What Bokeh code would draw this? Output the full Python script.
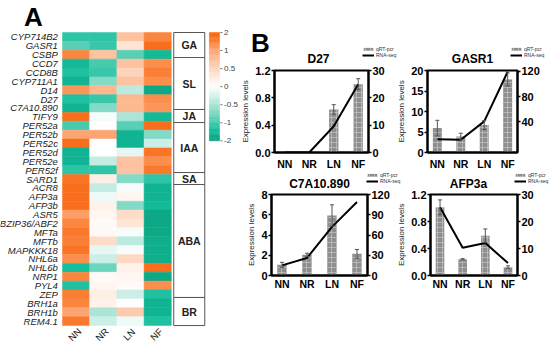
import numpy as np
from bokeh.plotting import figure
from bokeh.models import (ColumnDataSource, Range1d, LinearAxis, FixedTicker, Whisker, TeeHead,
                          Legend, LegendItem, LinearColorMapper, NumeralTickFormatter)
from bokeh.layouts import row, column
from bokeh.core.properties import value
from bokeh.embed import file_html
from bokeh.resources import INLINE

FONT = "Liberation Sans"

# ---------------- data: heatmap ----------------
genes = ["CYP714B2", "GASR1", "CSBP", "CCD7", "CCD8B", "CYP711A1", "D14", "D27", "C7A10.890",
         "TIFY9", "PER52a", "PER52b", "PER52c", "PER52d", "PER52e", "PER52f", "SARD1", "ACR8",
         "AFP3a", "AFP3b", "ASR5", "BZIP36/ABF2", "MFTa", "MFTb", "MAPKKK18", "NHL6a", "NHL6b",
         "NRP1", "PYL4", "ZEP", "BRH1a", "BRH1b", "REM4.1"]
conditions = ["NN", "NR", "LN", "NF"]
z_NN = [-1.2, -0.9, 1.4, -1.5, -1.3, -1.6, 1.2, -1.3, -1.6, 1.8, -1.0, 1.0, 1.8, -1.6, -1.6, -1.2,
        1.7, 1.8, 1.8, 1.8, 1.1, 1.4, 1.6, 1.5, 1.7, 1.3, -1.4, 1.4, -1.3, 1.5, 1.4, 1.0, 1.6]
z_NR = [-1.2, -1.1, 0.7, -1.0, -1.1, -0.7, 0.8, -1.1, -0.7, -0.05, 0.0, 1.0, 0.0, 0.0, -0.35, -1.2,
        0.2, -0.35, -0.1, 0.15, 0.1, 0.05, 0.05, 0.4, -0.15, -0.3, -0.8, 0.05, 0.1, 0.2, 0.15, -0.5, -0.3]
z_LN = [0.7, 0.3, -0.9, 0.7, 0.5, 0.7, -0.4, 0.8, 0.8, -0.5, -0.9, -1.6, -1.6, -0.15, 0.7, 0.7,
        -0.7, -0.05, 0.1, -0.7, 0.4, 0.3, -0.05, -0.4, -0.05, 0.45, 0.15, 0.1, 0.05, -0.3, 0.0, 0.6, -0.1]
z_NF = [1.4, 1.8, -1.5, 1.3, 1.5, 1.3, -1.8, 1.3, 1.2, -1.5, 1.8, -0.7, -0.3, 1.7, 1.3, 1.6,
        -1.2, -1.6, -1.6, -1.5, -1.8, -1.8, -1.8, -1.7, -1.7, -1.7, 1.8, -1.8, 1.3, -1.3, -1.6, -1.6, -1.3]
groups = ["GA", "SL", "JA", "IAA", "SA", "ABA", "BR"]
group_edges = [0, 2.82, 8.67, 10.14, 15.77, 17.12, 29.84, 33.0]   # box boundaries (in rows)
cbar_labels = ["2", "1", "0.5", "0", "-0.5", "-1", "-2"]
cbar_values = [2, 1, 0.5, 0, -0.5, -1, -2]

# ---------------- data: qRT-PCR / RNA-seq ----------------
x_labels = ["NN", "NR", "LN", "NF"]
d27_qrt = [0.0, 0.0, 0.63, 1.0]
d27_err = [0.0, 0.0, 0.07, 0.08]
d27_rna = [0.0, 0.0, 9.6, 25.0]
gasr1_qrt = [5.95, 3.9, 6.7, 17.8]
gasr1_err = [1.9, 0.8, 1.1, 1.6]
gasr1_rna = [13, 12, 41, 119]
c7a_qrt = [1.05, 2.04, 5.93, 2.14]
c7a_err = [0.25, 0.16, 1.05, 0.43]
c7a_rna = [15, 26, 72, 109]
afp3a_qrt = [1.01, 0.24, 0.59, 0.123]
afp3a_err = [0.11, 0.01, 0.10, 0.02]
afp3a_rna = [25.3, 10.3, 12.0, 4.6]
legend_labels = ["qRT-pcr", "RNA-seq"]

# ---------------- colour map ----------------
stop_v = [-2, -1.4, -1, -0.5, 0, 0.5, 1, 1.5, 2]
stop_c = ["#0A9F7C", "#14BF9D", "#47CAAE", "#AAE5D7", "#FFFFFF", "#FDD5BC", "#FCA673", "#FA7F34", "#F8640F"]
def hex2rgb(h):
    return [int(h[i:i + 2], 16) for i in (1, 3, 5)]
rgb = np.array([hex2rgb(c) for c in stop_c], dtype=float)
vals = np.linspace(-2, 2, 256)
palette = ["#%02x%02x%02x" % tuple(int(round(np.interp(v, stop_v, rgb[:, k]))) for k in range(3)) for v in vals]
mapper = LinearColorMapper(palette=palette, low=-2, high=2)

BAR_STYLE = dict(fill_color="#8E8E8E", line_color=None, hatch_pattern="+", hatch_color="#C9C9C9",
                 hatch_scale=5, hatch_weight=0.8, hatch_alpha=0.8)


def blank(width, height, xr, yr):
    f = figure(width=width, height=height, x_range=xr, y_range=yr, output_backend="svg",
               toolbar_location=None, min_border=0, x_axis_location=None, y_axis_location=None)
    f.grid.visible = False
    f.outline_line_color = None
    return f


# ---------------- heatmap figure (panel A) ----------------
HM_W, HM_H = 238, 344
COL_W, ROW_H = 27.2, 8.88
X0, Y0 = 62, 32
hm = blank(HM_W, HM_H, Range1d(-X0 / COL_W, (HM_W - X0) / COL_W),
           Range1d((HM_H - Y0) / ROW_H, -Y0 / ROW_H))

cx, cy, cz = [], [], []
for j, col in enumerate([z_NN, z_NR, z_LN, z_NF]):
    for i, v in enumerate(col):
        cx.append(j + 0.5); cy.append(i + 0.5); cz.append(v)
hsrc = ColumnDataSource(dict(x=cx, y=cy, z=cz))
hm.rect(x="x", y="y", width=1, height=1, source=hsrc,
        fill_color={"field": "z", "transform": mapper},
        line_color={"field": "z", "transform": mapper}, line_width=0.5)

hm.text(x=-0.17, y=[i + 0.5 for i in range(len(genes))], text=genes,
        text_align="right", text_baseline="middle", text_font=value(FONT),
        text_font_style="italic", text_font_size="9.5px", text_color="#1a1a1a")
hm.text(x=[j + 0.45 for j in range(4)], y=[34.0] * 4, text=conditions, angle=np.pi / 4,
        text_align="center", text_baseline="middle", text_font=value(FONT),
        text_font_size="9.5px", text_color="#1a1a1a")

# group boxes
gb = ColumnDataSource(dict(top=group_edges[:-1], bottom=group_edges[1:], name=groups,
                           mid=[(a + b) / 2 for a, b in zip(group_edges[:-1], group_edges[1:])]))
hm.quad(left=4.09, right=5.23, top="top", bottom="bottom", source=gb,
        fill_color="white", line_color="#555555", line_width=1)
hm.text(x=4.66, y="mid", text="name", source=gb, text_align="center", text_baseline="middle",
        text_font=value(FONT), text_font_style="bold", text_font_size="10.5px", text_color="#222222")

# colour bar
CB_TOP, CB_BOT = 0.0, 12.2
nseg = 90
t = np.linspace(0, 6, nseg + 1)
seg_v = np.interp((t[:-1] + t[1:]) / 2, np.arange(7), cbar_values)
seg_top = CB_TOP + t[:-1] / 6 * (CB_BOT - CB_TOP)
seg_bot = CB_TOP + t[1:] / 6 * (CB_BOT - CB_TOP)
cb = ColumnDataSource(dict(top=seg_top, bottom=seg_bot, v=seg_v))
hm.quad(left=5.4, right=5.77, top="top", bottom="bottom", source=cb,
        fill_color={"field": "v", "transform": mapper},
        line_color={"field": "v", "transform": mapper}, line_width=0.5)
tick_rows = [CB_TOP + k / 6 * (CB_BOT - CB_TOP) for k in range(7)]
hm.segment(x0=5.8, x1=5.88, y0=tick_rows, y1=tick_rows, line_color="#555555", line_width=0.8)
hm.text(x=5.94, y=tick_rows, text=cbar_labels, text_align="left", text_baseline="middle",
        text_font=value(FONT), text_font_size="8px", text_color="#444444")

hm.text(x=[-1.07], y=[-1.8], text=["A"], text_align="center", text_baseline="middle",
        text_font=value(FONT), text_font_style="bold", text_font_size="26px", text_color="black")


# ---------------- bar/line charts (panel B) ----------------
def make_chart(qrt, err, rna, left_end, left_ticks, left_fmt, right_range, right_ticks,
               width, height, mbl, mbr, mbt, mbb, x_standoff):
    p = figure(width=width, height=height, x_range=Range1d(-0.42, 3.42), y_range=Range1d(0, left_end),
               output_backend="svg", toolbar_location=None,
               min_border_left=mbl, min_border_right=mbr, min_border_top=mbt, min_border_bottom=mbb)
    p.extra_y_ranges = {"rna": Range1d(*right_range)}
    p.add_layout(LinearAxis(y_range_name="rna", ticker=FixedTicker(ticks=right_ticks)), "right")
    p.grid.visible = False
    p.outline_line_color = "black"
    p.outline_line_width = 2

    xs = list(range(4))
    src = ColumnDataSource(dict(x=xs, top=qrt))
    p.vbar(x="x", top="top", width=0.38, source=src, **BAR_STYLE)
    ex = [x for x, e in zip(xs, err) if e > 0]
    elo = [q - e for q, e in zip(qrt, err) if e > 0]
    ehi = [q + e for q, e in zip(qrt, err) if e > 0]
    esrc = ColumnDataSource(dict(x=ex, lo=elo, hi=ehi))
    p.add_layout(Whisker(source=esrc, base="x", lower="lo", upper="hi", line_color="#555555", line_width=1,
                         upper_head=TeeHead(size=4, line_color="#555555", line_width=1),
                         lower_head=TeeHead(size=4, line_color="#555555", line_width=1), level="overlay"))
    p.line(x=xs, y=rna, y_range_name="rna", line_color="black", line_width=2)

    p.left[0].ticker = FixedTicker(ticks=left_ticks)
    p.left[0].formatter = NumeralTickFormatter(format=left_fmt)
    p.left[0].axis_label = "Expression levels"
    p.left[0].axis_label_text_font_size = "8px"
    p.left[0].axis_label_text_font_style = "normal"
    p.left[0].axis_label_text_font = FONT
    p.left[0].axis_label_text_color = "#222222"
    p.left[0].axis_label_standoff = 2

    p.xaxis.ticker = FixedTicker(ticks=xs)
    p.xaxis.major_label_overrides = {i: lab for i, lab in enumerate(x_labels)}
    p.xaxis.major_tick_line_color = None
    p.xaxis.major_tick_out = 0
    p.xaxis.major_tick_in = 0
    p.xaxis.major_label_text_font_size = "10.5px"

    for ax in p.xaxis + p.yaxis:
        ax.axis_line_width = 2
        ax.axis_line_color = "black"
        ax.minor_tick_line_color = None
        ax.major_label_text_font = FONT
        ax.major_label_text_font_style = "bold"
        ax.major_label_text_color = "black"
        ax.major_label_standoff = 1
    p.xaxis.major_label_standoff = x_standoff
    for ax in p.yaxis:
        ax.major_tick_in = 0
        ax.major_tick_out = 3
        ax.major_tick_line_width = 1.5
        ax.major_label_text_font_size = "11px"
    return p


def make_header(width, height, titles, title_x, title_y, legend_xy, letter=None):
    h = blank(width, height, Range1d(0, width), Range1d(0, height))
    h.text(x=title_x, y=[title_y] * len(titles), text=titles, text_align="center", text_baseline="middle",
           text_font=value(FONT), text_font_style="bold", text_font_size="12px", text_color="black")
    if letter:
        h.text(x=[22], y=[height - 42.5], text=[letter], text_align="center", text_baseline="middle",
               text_font=value(FONT), text_font_style="bold", text_font_size="26px", text_color="black")
    # legend-only renderers: their single point lies outside the visible range
    rb = h.vbar(x=[-100], top=[1], width=1, **BAR_STYLE)
    rl = h.line(x=[-100, -90], y=[1, 1], line_color="black", line_width=2)
    for xy in legend_xy:
        h.add_layout(Legend(items=[LegendItem(label=legend_labels[0], renderers=[rb]),
                                   LegendItem(label=legend_labels[1], renderers=[rl])],
                            location=xy, label_text_font_size="5px", label_text_font=FONT,
                            label_text_color="#333333",
                            glyph_width=12, glyph_height=4, label_height=4, label_standoff=2,
                            spacing=0, padding=0, margin=0, border_line_color=None,
                            background_fill_alpha=0))
    return h


R_W = 312
hdr1 = make_header(R_W, 64, ["D27", "GASR1"], [80, 234], 64 - 58, [(124, 6), (272, 6)], letter="B")
c1 = make_chart(d27_qrt, d27_err, d27_rna, 1.2, [0, 0.4, 0.8, 1.2], "0.0", (0, 30), [0, 10, 20, 30],
                156, 108, 30, 26, 6, 19, 5)
c2 = make_chart(gasr1_qrt, gasr1_err, gasr1_rna, 20, [0, 5, 10, 15, 20], "0", (-8, 121), [40, 80, 120],
                156, 108, 28, 33, 6, 19, 5)
hdr2 = make_header(R_W, 17, ["C7A10.890", "AFP3a"], [81, 230], 17 - 11, [(128, 5), (276, 5)])
c3 = make_chart(c7a_qrt, c7a_err, c7a_rna, 8, [0, 2, 4, 6, 8], "0", (0, 120), [0, 30, 60, 90, 120],
                156, 155, 33, 27, 5, 69, 2)
c4 = make_chart(afp3a_qrt, afp3a_err, afp3a_rna, 1.2, [0, 0.4, 0.8, 1.2], "0.0", (0, 30), [0, 10, 20, 30],
                156, 155, 25, 33, 5, 69, 2)

page = row(hm, column(hdr1, row(c1, c2), hdr2, row(c3, c4)))
open("out.html", "w").write(file_html(page, INLINE))
